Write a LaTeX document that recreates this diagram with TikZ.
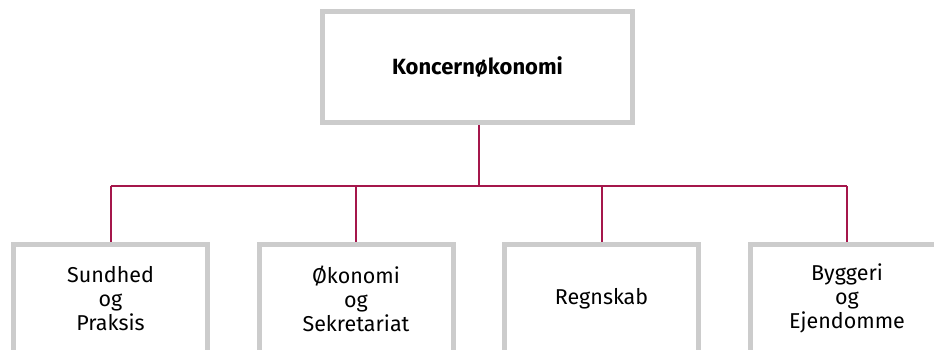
\documentclass[tikz,border=0pt]{standalone}
\usepackage{fontspec}
\setmainfont{Fira Sans}
\usetikzlibrary{calc}
\definecolor{boxgray}{HTML}{CCCCCC}
\definecolor{linered}{HTML}{A5164B}
\begin{document}
\begin{tikzpicture}[x=1pt,y=-1pt,
  topbox/.style={draw=boxgray, line width=5pt, fill=white, minimum width=310pt, minimum height=111pt, inner sep=0pt, font=\fontsize{22}{24}\selectfont\bfseries},
  unitbox/.style={draw=boxgray, line width=5pt, fill=white, minimum width=194pt, minimum height=109.3pt, inner sep=0pt, align=center, font=\fontsize{21.5}{24}\selectfont},
  link/.style={draw=linered, line width=2pt}]
\useasboundingbox (0,0) rectangle (934,350);
\clip (0,0) rectangle (934,350);
\node[topbox] (top) at (477.5,67) {Koncernøkonomi};
\node[unitbox] (b1) at (110.5,298.85) {Sundhed\\og\\Praksis};
\node[unitbox] (b2) at (356,298.85) {Økonomi\\og\\Sekretariat};
\node[unitbox] (b3) at (601.5,298.85) {Regnskab};
\node[unitbox] (b4) at (847,298.85) {Byggeri\\og\\Ejendomme};
\coordinate (hub) at ($(top.south)+(1.5,61)$);
\draw[link] (top.south -| hub) -- (hub);
\draw[link] (b1.north |- hub) -- (b4.north |- hub);
\foreach \b in {b1,b2,b3,b4} \draw[link] (\b.north |- hub) -- (\b.north);
\end{tikzpicture}
\end{document}
